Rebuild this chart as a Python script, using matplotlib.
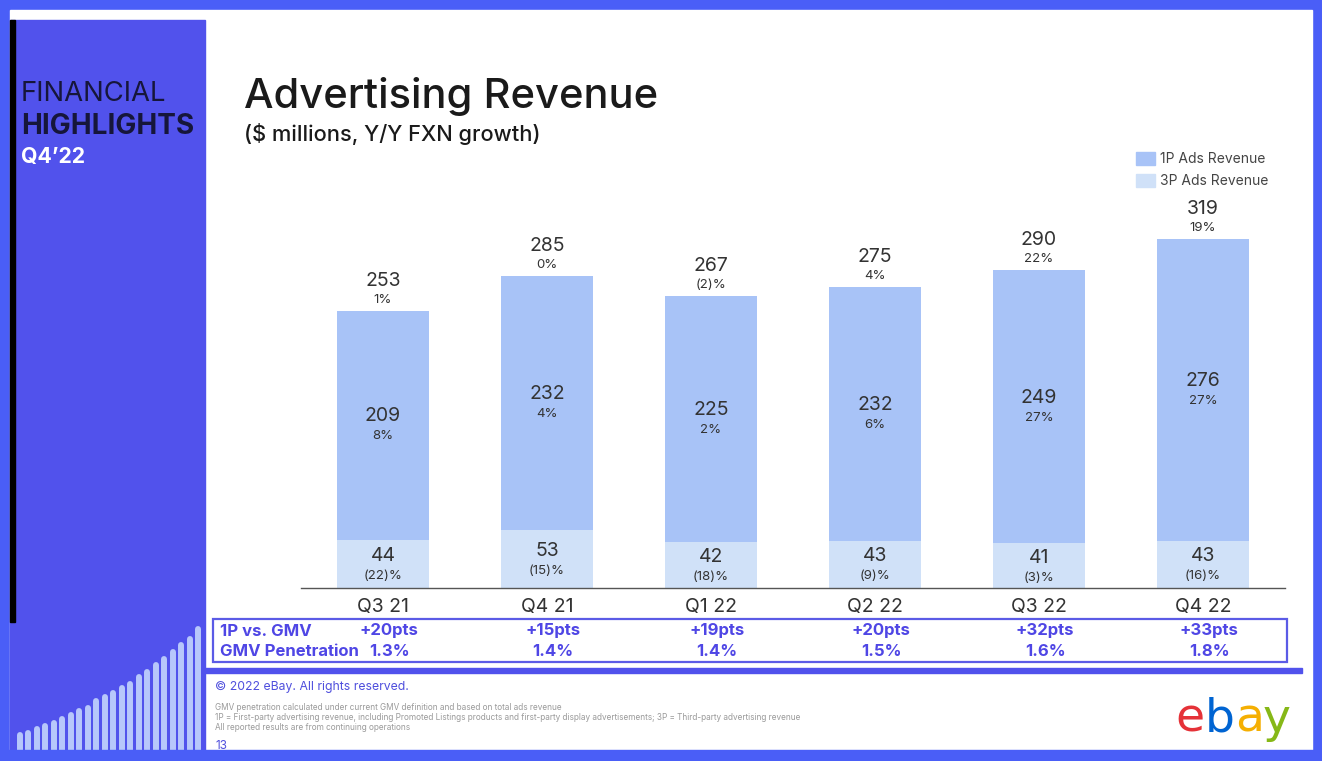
import matplotlib
matplotlib.use("Agg")
import matplotlib.pyplot as plt
from matplotlib.patches import Rectangle
from matplotlib.lines import Line2D

# ---------------- data ----------------
quarters = ["Q3 21", "Q4 21", "Q1 22", "Q2 22", "Q3 22", "Q4 22"]
ads_3p = [44, 53, 42, 43, 41, 43]
ads_3p_growth = ["(22)%", "(15)%", "(18)%", "(9)%", "(3)%", "(16)%"]
ads_1p = [209, 232, 225, 232, 249, 276]
ads_1p_growth = ["8%", "4%", "2%", "6%", "27%", "27%"]
totals = [253, 285, 267, 275, 290, 319]
total_growth = ["1%", "0%", "(2)%", "4%", "22%", "19%"]
vs_gmv = ["+20pts", "+15pts", "+19pts", "+20pts", "+32pts", "+33pts"]
gmv_penetration = ["1.3%", "1.4%", "1.4%", "1.5%", "1.6%", "1.8%"]
# decorative sidebar bar tops (pixel rows)
deco_tops = [733, 731, 727, 724, 721, 717, 713, 709, 706, 699, 695, 691,
             686, 682, 675, 670, 663, 657, 650, 643, 637, 627]

# ---------------- style ----------------
W, H = 1322, 761
FONT = ["Inter", "DejaVu Sans"]
plt.rcParams["font.family"] = FONT
C1 = "#a8c3f7"
C3 = "#d0e1f8"
BORDER = "#4a5ef7"
SIDEBAR = "#5152ec"
PURPLE = "#4f46e5"
TXT = "#333333"

def fx(x):
    return x / W

def fy(y):
    return 1 - y / H

fig = plt.figure(figsize=(W / 100, H / 100), dpi=100)
fig.patch.set_facecolor(BORDER)

bg = fig.add_axes([0, 0, 1, 1])
bg.set_xlim(0, W)
bg.set_ylim(H, 0)
bg.axis("off")

# white slide
bg.add_patch(Rectangle((10, 10), 1302, 740, color="white", zorder=0))
# sidebar
bg.add_patch(Rectangle((10, 20), 195, 730, color=SIDEBAR, zorder=1))
bg.add_patch(Rectangle((10, 20), 4.5, 602, color="black", zorder=1))
# decorative bars
for i, top in enumerate(deco_tops):
    xx = 19.5 + i * 8.5
    bg.add_line(Line2D([xx, xx], [top + 2, 760], color="#b7c7fb", lw=4.3,
                       solid_capstyle="round", zorder=2))
# re-draw bottom border over deco bars
bg.add_patch(Rectangle((0, 750), W, 11, color=BORDER, zorder=3))

# sidebar text
bg.text(21, 94, "FINANCIAL", fontsize=19.8, color="#16163a", va="center", ha="left", zorder=4)
bg.text(21, 127, "HIGHLIGHTS", fontsize=20.1, color="#16163a", fontweight="bold",
        va="center", ha="left", zorder=4)
bg.text(21, 157, "Q4\u201922", fontsize=15.3, color="white", fontweight="bold",
        va="center", ha="left", zorder=4)

# title
bg.text(244, 97, "Advertising Revenue", fontsize=30, color="#1a1a1a", va="center", ha="left",
        fontweight="medium")
bg.text(244, 134, "($ millions, Y/Y FXN growth)", fontsize=15.7, color="#1a1a1a",
        va="center", ha="left", fontweight="medium")

# legend
bg.add_patch(Rectangle((1136, 152), 19, 13, color=C1))
bg.add_patch(Rectangle((1136, 174), 19, 13, color=C3))
bg.text(1160, 159, "1P Ads Revenue", fontsize=10, color="#444444", va="center", ha="left")
bg.text(1160, 181, "3P Ads Revenue", fontsize=10, color="#444444", va="center", ha="left")

# table box and separator
bg.add_patch(Rectangle((213, 619), 1074, 43, fill=False, ec="#5b5be6", lw=1.6))
bg.add_patch(Rectangle((204, 668), 1098, 5, color=SIDEBAR))
bg.text(220, 631, "1P vs. GMV", fontsize=12, color=PURPLE, fontweight="bold",
        va="center", ha="left")
bg.text(220, 652, "GMV Penetration", fontsize=12, color=PURPLE, fontweight="bold",
        va="center", ha="left")

# footer
bg.text(215, 687, "\u00a9 2022 eBay. All rights reserved.", fontsize=8.8, color="#4f4fdd",
        va="center", ha="left")
notes = ["GMV penetration calculated under current GMV definition and based on total ads revenue",
         "1P = First-party advertising revenue, including Promoted Listings products and first-party display advertisements; 3P = Third-party advertising revenue",
         "All reported results are from continuing operations"]
for k, n in enumerate(notes):
    bg.text(215, 707 + k * 10.5, n, fontsize=5.9, color="#9a9a9a", va="center", ha="left")
bg.text(215, 746, "13", fontsize=8.5, color="#4f4fdd", va="center", ha="left", zorder=2)

# ebay logo
for ch, xx, col in [("e", 1175, "#e53238"), ("b", 1205, "#0064d2"),
                    ("a", 1235, "#f5af02"), ("y", 1263, "#86b817")]:
    bg.text(xx, 719, ch, fontsize=34, color=col, va="center", ha="left",
            family="DejaVu Sans")

# ---------------- chart ----------------
ax = fig.add_axes([fx(301), fy(588), 984 / W, (588 - 150) / H])
ax.set_facecolor("none")
x = list(range(len(quarters)))
bw = 0.555
ax.bar(x, ads_3p, width=bw, color=C3, zorder=2)
ax.bar(x, ads_1p, bottom=ads_3p, width=bw, color=C1, zorder=2)
ax.set_xlim(-0.5, 5.5)
ax.set_ylim(0, 400)
for s in ["top", "left", "right"]:
    ax.spines[s].set_visible(False)
ax.spines["bottom"].set_color("#555555")
ax.spines["bottom"].set_linewidth(1.0)
ax.set_xticks([])
ax.set_yticks([])

def lab(xv, yv, dy, s, fs, color=TXT, weight="normal", dx=0):
    ax.annotate(s, xy=(xv, yv), xytext=(dx, dy), textcoords="offset pixels",
                ha="center", va="center", fontsize=fs, color=color,
                fontweight=weight, annotation_clip=False)

for i in x:
    c3 = ads_3p[i] / 2
    lab(i, c3, 8, str(ads_3p[i]), 14)
    lab(i, c3, -12, ads_3p_growth[i], 9.5)
    c1 = ads_3p[i] + ads_1p[i] / 2
    lab(i, c1, 9, str(ads_1p[i]), 14)
    lab(i, c1, -11, ads_1p_growth[i], 9.5)
    top = ads_3p[i] + ads_1p[i]
    lab(i, top, 30, str(totals[i]), 14)
    lab(i, top, 11, total_growth[i], 9.5)
    lab(i, 0, -19, quarters[i], 14)
    lab(i, 0, -43, vs_gmv[i], 12, color=PURPLE, weight="bold", dx=6)
    lab(i, 0, -64, gmv_penetration[i], 12, color=PURPLE, weight="bold", dx=6)

fig.savefig("out.png", dpi=100, facecolor=BORDER)
